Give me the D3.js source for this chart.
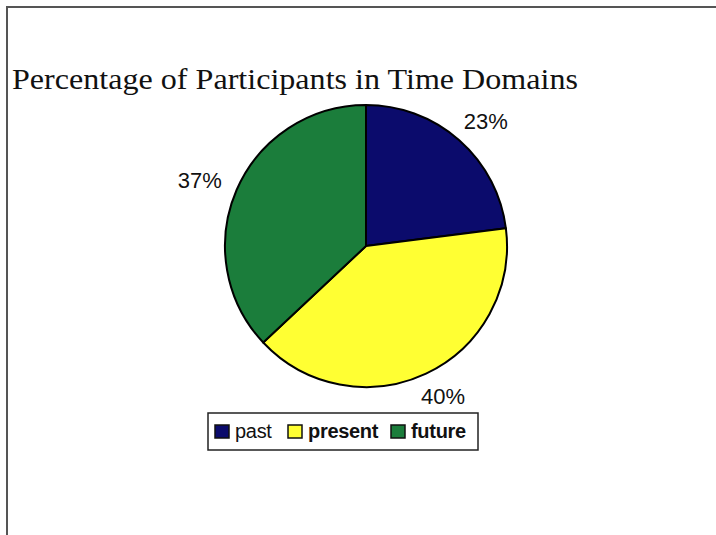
<!DOCTYPE html>
<html>
<head>
<meta charset="utf-8">
<script src="https://cdn.jsdelivr.net/npm/d3@7"></script>
<style>
  html, body { margin: 0; padding: 0; background: #fff; }
  svg { display: block; }
</style>
</head>
<body>
<svg id="chart" width="716" height="535"></svg>
<script>
// Share of participants by time domain
const categories = ["past", "present", "future"];
const values = [23, 40, 37];
const labels = ["23%", "40%", "37%"];
const colors = ["#0b0b6c", "#ffff33", "#1b7d3b"];

const svg = d3.select("#chart");
const W = 716, H = 535;

// outer frame (top and left edges visible)
svg.append("path")
  .attr("d", `M7,${H} L7,7 L${W},7`)
  .attr("fill", "none")
  .attr("stroke", "#555")
  .attr("stroke-width", 2);

// title
svg.append("text")
  .attr("x", 12)
  .attr("y", 89)
  .attr("font-family", "'Liberation Serif', 'Times New Roman', serif")
  .attr("font-size", 30)
  .attr("textLength", 566)
  .attr("lengthAdjust", "spacingAndGlyphs")
  .attr("fill", "#111")
  .text("Percentage of Participants in Time Domains");

// pie
const cx = 366, cy = 246, r = 141;
const data = categories.map((c, i) => ({ cat: c, value: values[i], label: labels[i], color: colors[i] }));
const pie = d3.pie().value(d => d.value).sort(null);
const arc = d3.arc().innerRadius(0).outerRadius(r);
const arcs = pie(data);

const g = svg.append("g").attr("transform", `translate(${cx},${cy})`);
g.selectAll("path.slice")
  .data(arcs)
  .join("path")
  .attr("class", "slice")
  .attr("d", arc)
  .attr("fill", d => d.data.color)
  .attr("stroke", "#000")
  .attr("stroke-width", 2)
  .attr("stroke-linejoin", "round");

// percentage labels: the label box sits just outside the rim at the slice's mid-angle
const labelR = r + 16;
const boxW = 48, boxH = 18;
g.selectAll("text.pct")
  .data(arcs)
  .join("text")
  .attr("class", "pct")
  .attr("transform", d => {
    const a = (d.startAngle + d.endAngle) / 2;
    const x = Math.sin(a) * (labelR + boxW / 2);
    const y = -Math.cos(a) * (labelR + boxH / 2);
    return `translate(${x},${y})`;
  })
  .attr("text-anchor", "middle")
  .attr("dominant-baseline", "central")
  .attr("font-family", "'Liberation Sans', Arial, sans-serif")
  .attr("font-size", 22)
  .attr("fill", "#111")
  .text(d => d.data.label);

// legend
const legend = svg.append("g").attr("transform", "translate(208,413)");
legend.append("rect")
  .attr("width", 270).attr("height", 37)
  .attr("fill", "#fff")
  .attr("stroke", "#222")
  .attr("stroke-width", 1.5);

const itemX = [7, 80, 183];
const items = legend.selectAll("g.item")
  .data(data)
  .join("g")
  .attr("class", "item")
  .attr("transform", (d, i) => `translate(${itemX[i]},12)`);
items.append("rect")
  .attr("width", 14).attr("height", 13)
  .attr("fill", d => d.color)
  .attr("stroke", "#111")
  .attr("stroke-width", 1.5);
items.append("text")
  .attr("x", 20)
  .attr("y", 13)
  .attr("font-family", "'Liberation Sans', Arial, sans-serif")
  .attr("font-size", 20)
  .attr("letter-spacing", -0.3)
  .attr("font-weight", (d, i) => i === 0 ? "normal" : "bold")
  .attr("fill", "#111")
  .text(d => d.cat);
</script>
</body>
</html>
